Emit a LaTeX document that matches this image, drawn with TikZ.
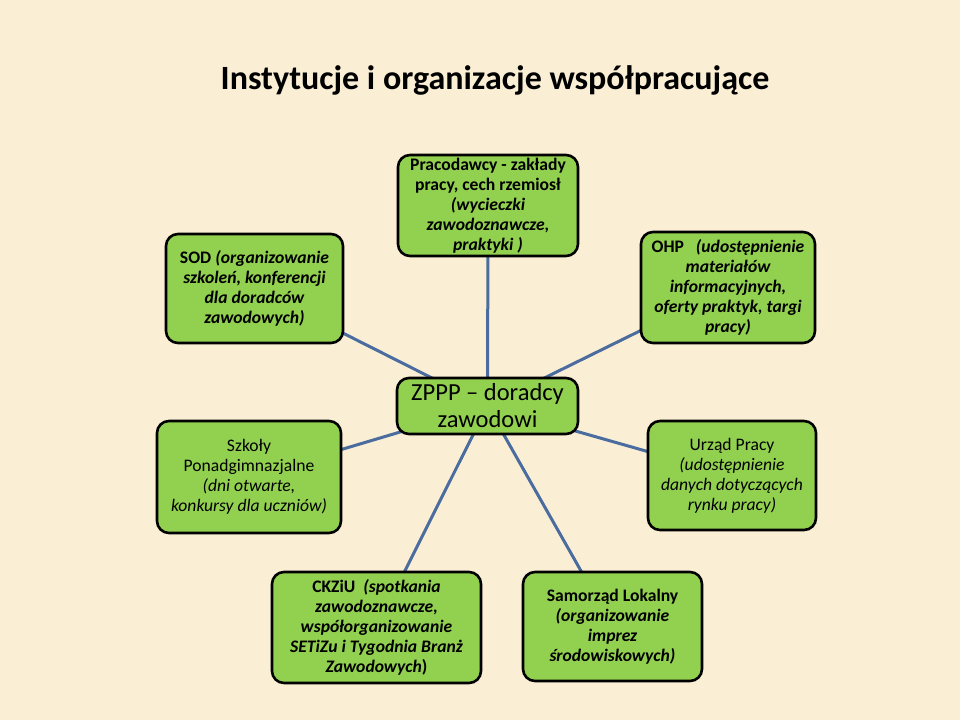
\documentclass[tikz,border=0pt]{standalone}
\usepackage{fontspec}
\setmainfont{Carlito}
\usetikzlibrary{backgrounds}
\definecolor{bgc}{RGB}{250,239,213}
\definecolor{boxg}{RGB}{146,208,80}
\definecolor{linkc}{RGB}{74,108,158}
\tikzset{
  org/.style={draw=black, line width=2.6pt, fill=boxg, rounded corners=12pt,
    align=center, inner sep=0pt, font=\fontsize{17.6}{20}\selectfont},
  link/.style={draw=linkc, line width=3pt},
}
\begin{document}
\begin{tikzpicture}[x=1pt,y=-1pt]
\useasboundingbox (0,0) rectangle (960,720);
\node (title) at (495,80) {\fontsize{34}{40}\selectfont\bfseries Instytucje i organizacje współpracujące};

\node[org, minimum width=180pt, minimum height=101pt] (prac) at (488,205.5)
  {\bfseries Pracodawcy - zakłady\\ \bfseries pracy, cech rzemiosł\\ \bfseries\itshape (wycieczki\\ \bfseries\itshape zawodoznawcze,\\ \bfseries\itshape praktyki )};
\node[org, minimum width=177pt, minimum height=109pt] (sod) at (254.5,288.5)
  {\bfseries SOD \itshape(organizowanie\\ \bfseries\itshape szkoleń, konferencji\\ \bfseries\itshape dla doradców\\ \bfseries\itshape zawodowych)};
\node[org, minimum width=174pt, minimum height=111pt] (ohp) at (728,287.5)
  {\bfseries OHP~~~\itshape(udostępnienie\\ \bfseries\itshape materiałów\\ \bfseries\itshape informacyjnych,\\ \bfseries\itshape oferty praktyk, targi\\ \bfseries\itshape pracy)};
\node[org, minimum width=181pt, minimum height=56pt, font=\fontsize{24.5}{27}\selectfont] (zppp) at (487.5,406)
  {ZPPP -- doradcy\\ zawodowi};
\node[org, minimum width=184pt, minimum height=112pt] (szk) at (249,477)
  {Szkoły\\ Ponadgimnazjalne\\ \itshape (dni otwarte,\\ \itshape konkursy dla uczniów)};
\node[org, minimum width=168pt, minimum height=109pt] (urz) at (732,475.5)
  {Urząd Pracy\\ \itshape(udostępnienie\\ \itshape danych dotyczących\\ \itshape rynku pracy)};
\node[org, minimum width=209pt, minimum height=111pt] (ckz) at (376.5,627.5)
  {\bfseries CKZiU~~\itshape(spotkania\\ \bfseries\itshape zawodoznawcze,\\ \bfseries\itshape współorganizowanie\\ \bfseries\itshape SETiZu i Tygodnia Branż\\ \bfseries{\itshape Zawodowych})};
\node[org, minimum width=179pt, minimum height=109pt] (sam) at (612.5,626.5)
  {\bfseries Samorząd Lokalny\\ \bfseries\itshape(organizowanie\\ \bfseries\itshape imprez\\ \bfseries\itshape środowiskowych)};

\begin{scope}[on background layer]
\fill[bgc] (0,0) rectangle (960,720);
\foreach \n in {prac,sod,ohp,szk,urz,ckz,sam}
  \draw[link] (zppp.center) -- (\n.center);
\end{scope}
\end{tikzpicture}
\end{document}
